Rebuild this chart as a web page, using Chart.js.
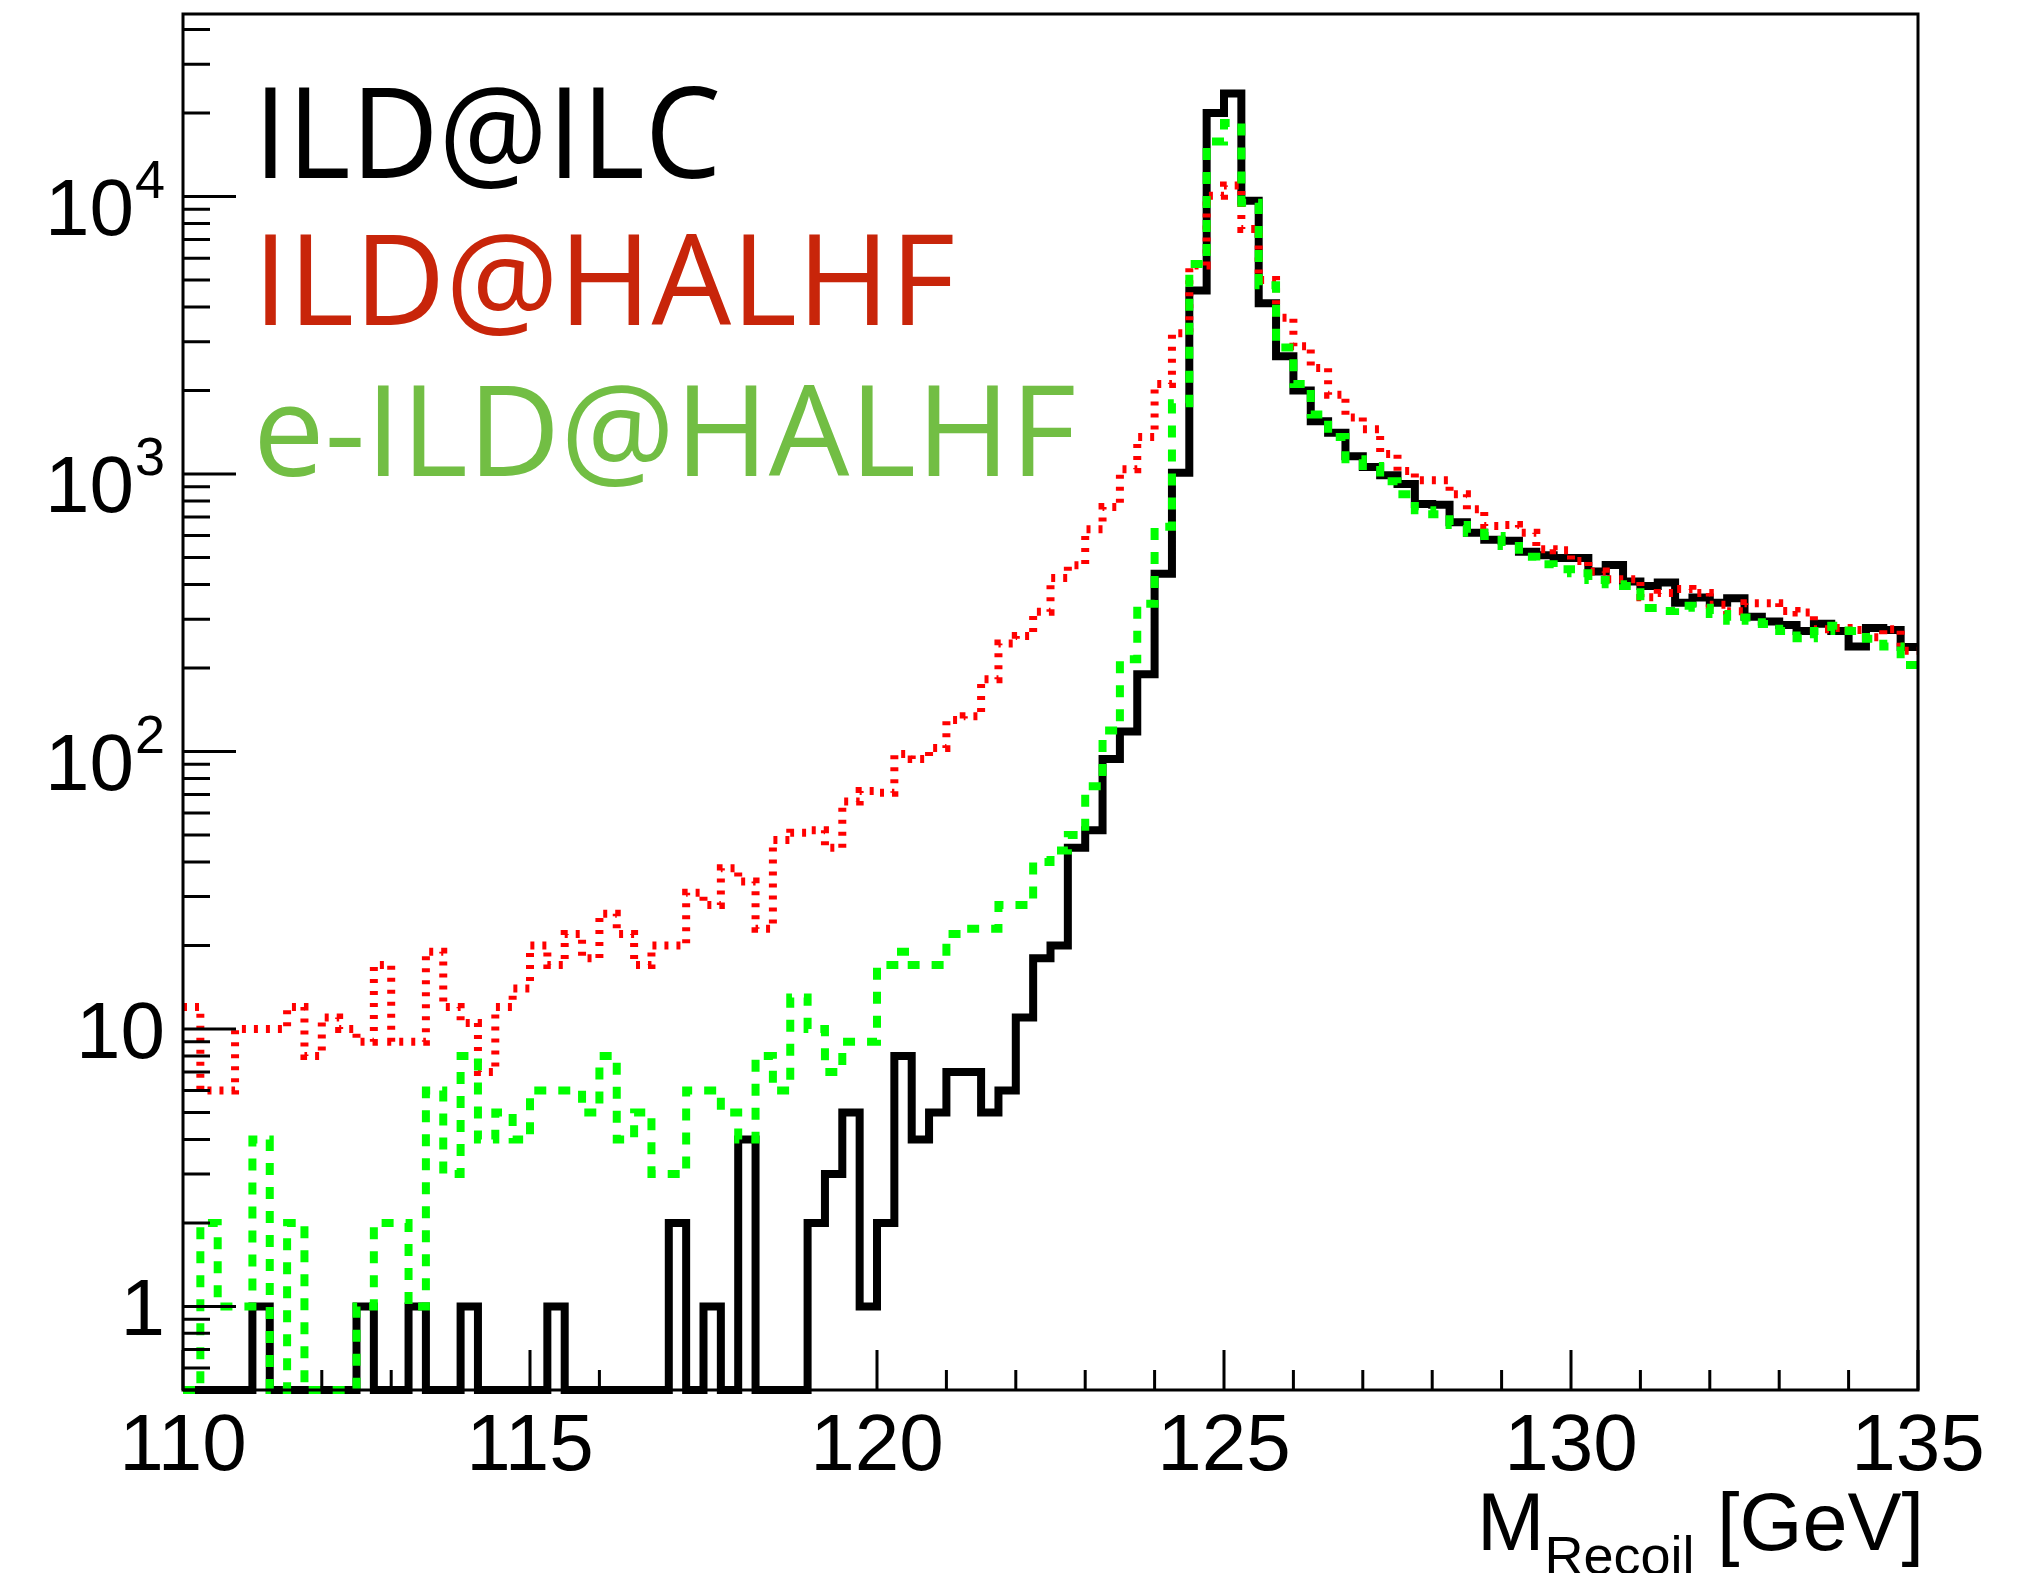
<!DOCTYPE html>
<html>
<head>
<meta charset="utf-8">
<title>Recoil mass</title>
<script src="https://cdn.jsdelivr.net/npm/chart.js@4.4.0/dist/chart.umd.min.js"></script>
<style>
  html, body { margin: 0; padding: 0; background: #fff; }
</style>
</head>
<body>
<canvas id="recoil" width="2023" height="1573"></canvas>
<script>
// 100 bins of 0.25 GeV from 110 to 135 GeV, empty bins are 0
const binLow = 110;
const binWidth = 0.25;

const ildIlc = [
  0, 0, 0, 0, 1, 0, 0, 0, 0, 0,
  1, 0, 0, 1, 0, 0, 1, 0, 0, 0,
  0, 1, 0, 0, 0, 0, 0, 0, 2, 0,
  1, 0, 4, 0, 0, 0, 2, 3, 5, 1,
  2, 8, 4, 5, 7, 7, 5, 6, 11, 18,
  20, 45, 52, 94, 118, 190, 437, 1010, 4590, 20000,
  23500, 9650, 4130, 2660, 2000, 1550, 1410, 1160, 1060, 990,
  920, 780, 775, 670, 615, 580, 575, 525, 510, 498,
  498, 445, 470, 410, 395, 407, 344, 359, 344, 357,
  306, 294, 286, 272, 289, 272, 239, 279, 274, 238
];

const ildHalhf = [
  12, 6, 6, 10, 10, 10, 12, 8, 11, 10,
  9, 17, 9, 9, 19, 12, 10.5, 7, 12, 14,
  20, 17, 22, 18, 26, 22, 17, 20, 20, 31,
  28, 38, 34, 23, 48, 51, 52, 45, 66, 72,
  71, 98, 94, 103, 130, 134, 182, 245, 261, 319,
  422, 469, 632, 760, 1040, 1360, 2110, 3220, 5650, 10070,
  10960, 7640, 5000, 3660, 2890, 2410, 1930, 1600, 1450, 1180,
  1025, 949, 949, 845, 746, 650, 655, 615, 536, 531,
  486, 445, 418, 418, 360, 373, 385, 373, 338, 320,
  342, 342, 321, 317, 276, 279, 274, 258, 276, 231
];

const eIldHalhf = [
  0, 2, 1, 1, 4, 0, 2, 0, 0, 0,
  1, 2, 2, 1, 6, 3, 8, 4, 5, 4,
  6, 6, 6, 5, 8, 4, 5, 3, 3, 6,
  6, 5, 4, 8, 6, 13, 10, 7, 9, 9,
  17, 19, 17, 17, 22, 23, 23, 28, 28, 40,
  44, 50, 75, 119, 215, 341, 646, 1800, 5710, 15800,
  18400, 9510, 4790, 2860, 2110, 1640, 1360, 1130, 1070, 943,
  845, 740, 716, 655, 615, 598, 551, 503, 473, 454,
  439, 415, 401, 395, 329, 321, 335, 330, 313, 296,
  304, 288, 272, 256, 272, 284, 272, 255, 239, 205
];

const legendLabels = ["ILD@ILC", "ILD@HALHF", "e-ILD@HALHF"];
const xTickLabels = [110, 115, 120, 125, 130, 135];
const yTickExponents = [0, 1, 2, 3, 4];

const xMin = 110, xMax = 135;
const yMin = 0.5, yMax = 45500;

const axisFont = '"Liberation Sans", Arial, sans-serif';

// histogram -> step points on the bin edges, empty bins sit on the frame bottom
function toSteps(values) {
  const pts = values.map((v, i) => ({ x: binLow + i * binWidth, y: v > 0 ? v : yMin }));
  const last = values[values.length - 1];
  pts.push({ x: binLow + values.length * binWidth, y: last > 0 ? last : yMin });
  return pts;
}

const rootAxes = {
  id: 'rootAxes',
  afterDatasetsDraw(chart) {
    const { ctx, chartArea: a, scales: { x, y } } = chart;
    ctx.save();
    ctx.strokeStyle = '#000';
    ctx.lineWidth = 3;
    ctx.strokeRect(a.left, a.top, a.right - a.left, a.bottom - a.top);

    ctx.beginPath();
    for (let v = xMin; v <= xMax; v++) {
      const px = x.getPixelForValue(v);
      ctx.moveTo(px, a.bottom);
      ctx.lineTo(px, a.bottom - (v % 5 === 0 ? 40 : 20));
    }
    for (let d = -1; d <= 4; d++) {
      for (let m = 1; m <= 9; m++) {
        const v = m * Math.pow(10, d);
        if (v < yMin || v > yMax) continue;
        const py = y.getPixelForValue(v);
        ctx.moveTo(a.left, py);
        ctx.lineTo(a.left + (m === 1 ? 53 : 27), py);
      }
    }
    ctx.stroke();

    // x tick labels
    ctx.fillStyle = '#000';
    ctx.font = '80px ' + axisFont;
    ctx.textAlign = 'center';
    ctx.textBaseline = 'alphabetic';
    xTickLabels.forEach(v => ctx.fillText(String(v), x.getPixelForValue(v), 1470));

    // y tick labels, 10 with a raised exponent
    ctx.textAlign = 'right';
    const right = a.left - 18;
    yTickExponents.forEach(e => {
      const py = y.getPixelForValue(Math.pow(10, e));
      if (e < 2) {
        ctx.font = '80px ' + axisFont;
        ctx.fillText(e === 0 ? '1' : '10', right, py + 29);
      } else {
        ctx.font = '54px ' + axisFont;
        const sup = String(e);
        const supW = ctx.measureText(sup).width;
        ctx.fillText(sup, right, py + 1);
        ctx.font = '80px ' + axisFont;
        ctx.fillText('10', right - supW - 1, py + 38);
      }
    });

    // x axis title, right aligned to the frame
    ctx.textAlign = 'left';
    let tx = 1477;
    ctx.font = '81px ' + axisFont;
    ctx.fillText('M', tx, 1550);
    tx += ctx.measureText('M').width;
    ctx.font = '54px ' + axisFont;
    ctx.fillText('Recoil', tx, 1574);
    tx += ctx.measureText('Recoil').width;
    ctx.font = '81px ' + axisFont;
    ctx.fillText(' [GeV]', tx, 1550);

    // labels in the top left corner, stretched to the widths of the original lettering
    const colours = ['#000000', '#C8250A', '#72BE44'];
    const lefts = [265, 265, 260];
    const baselines = [178, 325, 476];
    const inkWidths = [453, 688, 814];
    ctx.font = '126px "Open Sans"';
    legendLabels.forEach((t, i) => {
      const m = ctx.measureText(t);
      const sx = inkWidths[i] / (m.actualBoundingBoxLeft + m.actualBoundingBoxRight);
      ctx.save();
      ctx.translate(lefts[i], baselines[i]);
      ctx.scale(sx, 1);
      ctx.fillStyle = colours[i];
      ctx.fillText(t, m.actualBoundingBoxLeft, 0);
      ctx.restore();
    });
    ctx.restore();
  }
};

const common = {
  stepped: true,
  pointRadius: 0,
  fill: false,
  borderCapStyle: 'butt',
  borderJoinStyle: 'miter',
  clip: 8
};

new Chart(document.getElementById('recoil'), {
  type: 'line',
  data: {
    datasets: [
      Object.assign({ label: legendLabels[0], data: toSteps(ildIlc), borderColor: '#000000', borderWidth: 8, order: 3 }, common),
      Object.assign({ label: legendLabels[1], data: toSteps(ildHalhf), borderColor: '#FF0000', borderWidth: 8, borderDash: [4, 8], order: 2 }, common),
      Object.assign({ label: legendLabels[2], data: toSteps(eIldHalhf), borderColor: '#00FF00', borderWidth: 8, borderDash: [12, 12], order: 1 }, common)
    ]
  },
  options: {
    responsive: false,
    animation: false,
    devicePixelRatio: 1,
    parsing: false,
    layout: { padding: { left: 183, right: 105, top: 14, bottom: 183 } },
    plugins: { legend: { display: false }, tooltip: { enabled: false } },
    scales: {
      x: { type: 'linear', min: xMin, max: xMax, display: false },
      y: { type: 'logarithmic', min: yMin, max: yMax, display: false }
    }
  },
  plugins: [rootAxes]
});
</script>
</body>
</html>
